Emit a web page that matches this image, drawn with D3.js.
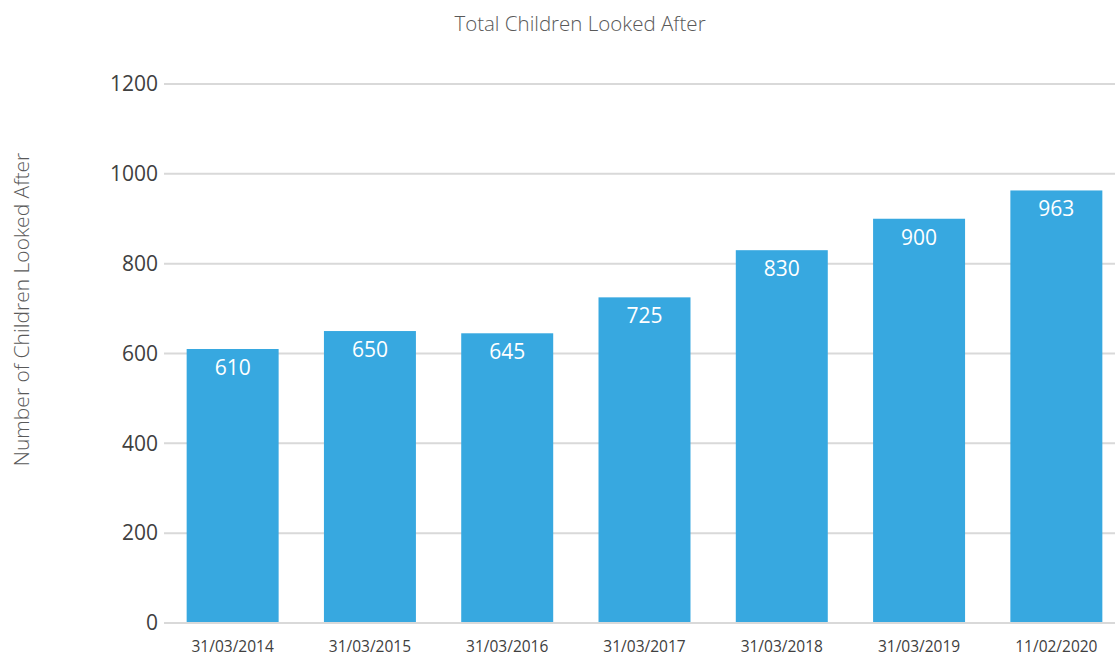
<!DOCTYPE html>
<html>
<head>
<meta charset="utf-8">
<script src="https://cdn.jsdelivr.net/npm/d3@7"></script>
<style>
  html, body { margin: 0; padding: 0; background: #fff; }
  svg { display: block; font-family: "Open Sans", "Noto Sans", sans-serif; }
</style>
</head>
<body>
<svg id="chart" width="1115" height="658"></svg>
<script>
// Children looked after at each count date
const categories = ["31/03/2014", "31/03/2015", "31/03/2016", "31/03/2017", "31/03/2018", "31/03/2019", "11/02/2020"];
const values = [610, 650, 645, 725, 830, 900, 963];
const yTicks = [0, 200, 400, 600, 800, 1000, 1200];

const svg = d3.select("#chart");
const margin = { left: 164, right: -10, top: 84, bottom: 35 };
const W = 1115, H = 658;

const x = d3.scaleBand()
  .domain(categories)
  .range([margin.left, W - margin.right])
  .paddingInner(0.33)
  .paddingOuter(0.165);

const y = d3.scaleLinear()
  .domain([0, 1200])
  .range([H - margin.bottom, margin.top]);

// Horizontal gridlines
svg.append("g")
  .selectAll("line")
  .data(yTicks)
  .join("line")
  .attr("x1", margin.left)
  .attr("x2", W)
  .attr("y1", d => y(d))
  .attr("y2", d => y(d))
  .attr("stroke", "#d9d9d9")
  .attr("stroke-width", 2);

// Y axis labels
const yAxis = svg.append("g")
  .attr("transform", `translate(${margin.left - 6},0)`)
  .call(d3.axisLeft(y).tickValues(yTicks).tickSize(0).tickPadding(0).tickFormat(d3.format("d")));
yAxis.select(".domain").remove();
yAxis.selectAll("text")
  .attr("fill", "#404040")
  .style("font-size", "21px")
  .style("font-family", "'Open Sans', 'Noto Sans', sans-serif");

// Bars
svg.append("g")
  .selectAll("rect")
  .data(values)
  .join("rect")
  .attr("x", (d, i) => x(categories[i]))
  .attr("width", x.bandwidth())
  .attr("y", d => y(d))
  .attr("height", d => y(0) - y(d) - 1)
  .attr("fill", "#37a8e0");

// Value labels inside the bars
svg.append("g")
  .selectAll("text")
  .data(values)
  .join("text")
  .attr("x", (d, i) => x(categories[i]) + x.bandwidth() / 2)
  .attr("y", d => y(d) + 26)
  .attr("text-anchor", "middle")
  .attr("fill", "#ffffff")
  .style("font-size", "21px")
  .text(d => d);

// X axis labels
const xAxis = svg.append("g")
  .attr("transform", `translate(0,${y(0)})`)
  .call(d3.axisBottom(x).tickSize(0).tickPadding(18));
xAxis.select(".domain").remove();
xAxis.selectAll("text")
  .attr("fill", "#404040")
  .style("font-size", "15.5px")
  .style("font-family", "'Open Sans', 'Noto Sans', sans-serif");

// Title
svg.append("text")
  .attr("x", 580)
  .attr("y", 31)
  .attr("text-anchor", "middle")
  .attr("fill", "#595959")
  .style("font-size", "20.5px")
  .style("font-weight", 300)
  .text("Total Children Looked After");

// Y axis title
svg.append("text")
  .attr("transform", `translate(29,${(y(0) + y(1200)) / 2 - 44}) rotate(-90)`)
  .attr("text-anchor", "middle")
  .attr("fill", "#595959")
  .style("font-size", "21px")
  .style("font-weight", 300)
  .text("Number of Children Looked After");
</script>
</body>
</html>
